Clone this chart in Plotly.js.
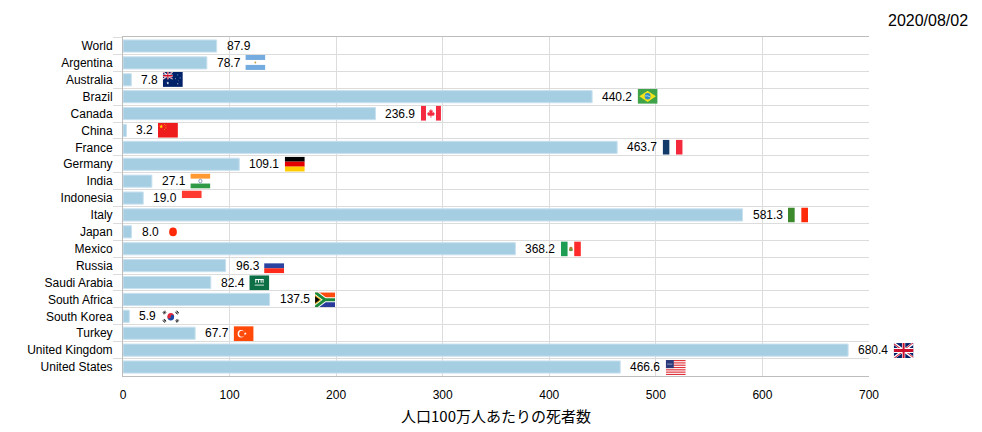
<!DOCTYPE html>
<html>
<head>
<meta charset="utf-8">
<script src="https://cdn.plot.ly/plotly-3.0.1.min.js"></script>
<style>
  body { margin: 0; background: #fff; }
  #chart { width: 982px; height: 432px; }
</style>
</head>
<body>
<div id="chart"></div>
<script>
// data (deaths per million, 2020/08/02)
var countries = ["World", "Argentina", "Australia", "Brazil", "Canada", "China", "France",
    "Germany", "India", "Indonesia", "Italy", "Japan", "Mexico", "Russia", "Saudi Arabia",
    "South Africa", "South Korea", "Turkey", "United Kingdom", "United States"];
var deaths = [87.9, 78.7, 7.8, 440.2, 236.9, 3.2, 463.7, 109.1, 27.1, 19.0, 581.3, 8.0,
    368.2, 96.3, 82.4, 137.5, 5.9, 67.7, 680.4, 466.6];
var flagCodes = ["", "ARG", "AUS", "BRA", "CAN", "CHN", "FRA", "DEU", "IND", "IDN", "ITA",
    "JPN", "MEX", "RUS", "SAU", "ZAF", "KOR", "TUR", "GBR", "USA"];
var dateLabel = "2020/08/02";
var xTitle = "人口100万人あたりの死者数";

// small helper for star polygons in the flags
function star(cx, cy, r, fill) {
    var pts = [];
    for (var i = 0; i < 10; i++) {
        var a = -Math.PI / 2 + i * Math.PI / 5;
        var rr = (i % 2 === 0) ? r : r * 0.4;
        pts.push((cx + rr * Math.cos(a)).toFixed(2) + "," + (cy + rr * Math.sin(a)).toFixed(2));
    }
    return '<polygon points="' + pts.join(" ") + '" fill="' + fill + '"/>';
}

function unionJack(w, h) {
    return '<svg x="0" y="0" width="' + w + '" height="' + h + '" viewBox="0 0 60 30" preserveAspectRatio="none">' +
        '<clipPath id="t"><path d="M30,15 h30 v15 z v15 h-30 z h-30 v-15 z v-15 h30 z"/></clipPath>' +
        '<rect width="60" height="30" fill="#012169"/>' +
        '<path d="M0,0 L60,30 M60,0 L0,30" stroke="#fff" stroke-width="6"/>' +
        '<path d="M0,0 L60,30 M60,0 L0,30" clip-path="url(#t)" stroke="#C8102E" stroke-width="4"/>' +
        '<path d="M30,0 v30 M0,15 h60" stroke="#fff" stroke-width="10"/>' +
        '<path d="M30,0 v30 M0,15 h60" stroke="#C8102E" stroke-width="6"/></svg>';
}

// every flag drawn on a 30x20 box, stretched to the image size
var flagBodies = {
    ARG: '<rect width="30" height="6.7" fill="#74acdf"/><rect y="13.3" width="30" height="6.7" fill="#74acdf"/><circle cx="15" cy="10" r="1.4" fill="#c8a040"/>',
    AUS: '<rect width="30" height="20" fill="#012169"/>' + unionJack(15, 10) +
        star(7.5, 15, 2.2, "#fff") + star(22.5, 4, 1, "#fff") + star(19, 9, 1, "#fff") +
        star(26, 8, 1, "#fff") + star(22.5, 16, 1.1, "#fff") + star(24, 12, 0.6, "#fff"),
    BRA: '<rect width="30" height="20" fill="#3fa34a"/><polygon points="15,2.5 27.5,10 15,17.5 2.5,10" fill="#f2e21a"/><circle cx="15" cy="10" r="4.3" fill="#2f8fc4"/><path d="M11,9.5 Q15,8.5 19,10.8" stroke="#fff" stroke-width="0.8" fill="none"/>',
    CAN: '<rect width="7.5" height="20" fill="#f42a41"/><rect x="22.5" width="7.5" height="20" fill="#f42a41"/><path d="M15,4 L16.2,6.5 L17.8,5.8 L17.2,9.5 L19.5,8.3 L19.8,10 L21,10.2 L19.6,12.3 L20.3,13 L15.6,13.4 L15.6,16 L14.4,16 L14.4,13.4 L9.7,13 L10.4,12.3 L9,10.2 L10.2,10 L10.5,8.3 L12.8,9.5 L12.2,5.8 L13.8,6.5 Z" fill="#f42a41"/>',
    CHN: '<rect width="30" height="20" fill="#ee1c1c"/>' + star(5, 5, 3, "#ffde00") +
        star(10, 2, 1, "#ffde00") + star(12, 4, 1, "#ffde00") + star(12, 7, 1, "#ffde00") + star(10, 9, 1, "#ffde00"),
    FRA: '<rect width="10" height="20" fill="#123a6b"/><rect x="20" width="10" height="20" fill="#f42a3c"/>',
    DEU: '<rect width="30" height="6.7" fill="#000"/><rect y="6.7" width="30" height="6.7" fill="#e40000"/><rect y="13.3" width="30" height="6.7" fill="#ffcc00"/>',
    IND: '<rect width="30" height="6.7" fill="#ff9a33"/><rect y="13.3" width="30" height="6.7" fill="#2e9a46"/><circle cx="15" cy="10" r="2.4" fill="none" stroke="#1d3a8a" stroke-width="0.7"/>',
    IDN: '<rect width="30" height="10" fill="#ff3a30"/>',
    ITA: '<rect width="10" height="20" fill="#3c8a2c"/><rect x="20" width="10" height="20" fill="#ff2a0a"/>',
    JPN: '<circle cx="15" cy="10" r="5.8" fill="#ff2a0a"/>',
    MEX: '<rect width="10" height="20" fill="#1e9e55"/><rect x="20" width="10" height="20" fill="#ff2a2a"/><ellipse cx="15" cy="10" rx="2.6" ry="3" fill="#b07a30"/><ellipse cx="15" cy="11.5" rx="3" ry="1.2" fill="#6a9a40"/>',
    RUS: '<rect y="6.7" width="30" height="6.7" fill="#2a42a0"/><rect y="13.3" width="30" height="6.7" fill="#ff2a1a"/>',
    SAU: '<rect width="30" height="20" fill="#0c6f46"/><rect x="9" y="5" width="12" height="1.4" fill="#fff"/><rect x="9" y="5" width="1.4" height="5" fill="#fff"/><rect x="13" y="5" width="1.4" height="5" fill="#fff"/><rect x="17" y="5" width="1.4" height="5" fill="#fff"/><rect x="20" y="5" width="1.4" height="5" fill="#fff"/><rect x="8" y="12.5" width="14" height="1.1" fill="#fff"/>',
    ZAF: '<svg width="30" height="20" viewBox="0 0 9 6" preserveAspectRatio="none">' +
        '<rect width="9" height="3" fill="#ff4a10"/><rect y="3" width="9" height="3" fill="#2a3a9a"/>' +
        '<path d="M0,0 L4.5,3 L0,6 M4.5,3 H9" stroke="#fff" stroke-width="2" fill="none"/>' +
        '<path d="M0,0 L4.5,3 L0,6 M4.5,3 H9" stroke="#1a8a3a" stroke-width="1.2" fill="none"/>' +
        '<polygon points="0,1.1 2.9,3 0,4.9" fill="#f0b818"/><polygon points="0,1.6 2.2,3 0,4.4" fill="#000"/></svg>',
    KOR: '<path d="M10,10 A5,5 0 0 1 20,10 Z" fill="#e0283a"/><path d="M10,10 A5,5 0 0 0 20,10 Z" fill="#1a4aa8"/><circle cx="12.5" cy="10" r="2.5" fill="#e0283a"/><circle cx="17.5" cy="10" r="2.5" fill="#1a4aa8"/>' +
        '<g stroke="#000" stroke-width="1.2"><path d="M3,5 L6,2 M4,6 L7,3 M5,7 L8,4"/><path d="M24,2 L27,5 M23,3 L26,6 M22,4 L25,7"/><path d="M3,15 L6,18 M4,14 L7,17 M5,13 L8,16"/><path d="M24,18 L27,15 M23,17 L26,14 M22,16 L25,13"/></g>',
    TUR: '<rect width="30" height="20" fill="#ff4a0a"/><circle cx="11" cy="10" r="5" fill="#fff"/><circle cx="12.3" cy="10" r="4" fill="#ff4a0a"/>' + star(17.5, 10, 2.2, "#fff"),
    GBR: unionJack(30, 20),
    USA: (function () {
        var s = '<rect width="30" height="20" fill="#fff"/>';
        for (var i = 0; i < 13; i += 2) s += '<rect y="' + (i * 20 / 13).toFixed(2) + '" width="30" height="' + (20 / 13).toFixed(2) + '" fill="#e0303a"/>';
        s += '<rect width="12" height="10.8" fill="#2a3a7a"/>';
        s += '<rect x="2" y="5" width="8" height="0.8" fill="#cfd4ea"/>';
        return s;
    })()
};

function flagUri(code) {
    var svg = '<svg xmlns="http://www.w3.org/2000/svg" width="30" height="20" viewBox="0 0 30 20" preserveAspectRatio="none">' +
        flagBodies[code] + '</svg>';
    return "data:image/svg+xml;charset=utf-8," + encodeURIComponent(svg);
}

// plot area geometry (for turning pixel gaps into data/paper units)
var plotLeft = 123, plotRight = 869, plotTop = 37, plotBottom = 376, xMax = 700;
var plotW = plotRight - plotLeft, plotH = plotBottom - plotTop;
var unitsPerPx = xMax / plotW;

var trace = {
    type: "bar",
    orientation: "h",
    x: deaths,
    y: countries,
    marker: { color: "#a6cee3", line: { color: "#c9e1ef", width: 1 } },
    hoverinfo: "x+y"
};

var annotations = countries.map(function (c, i) {
    return {
        x: deaths[i], y: c, xref: "x", yref: "y",
        text: deaths[i].toFixed(1), showarrow: false,
        xanchor: "left", yanchor: "middle", xshift: 8,
        font: { size: 12, color: "#000" }
    };
});
annotations.push({
    x: (970 - plotLeft) / plotW, y: 1 + (plotTop - 20) / plotH,
    xref: "paper", yref: "paper", text: dateLabel,
    showarrow: false, xanchor: "right", yanchor: "middle",
    font: { size: 16, color: "#000" }
});

// flags sit after the value label; paper refs so the one past 700 is not clipped
var images = [];
countries.forEach(function (c, i) {
    if (!flagCodes[i]) return;
    var label = deaths[i].toFixed(1);
    var gapPx = 10.5 + 7 * label.length;
    images.push({
        source: flagUri(flagCodes[i]),
        xref: "paper", yref: "paper",
        x: (deaths[i] / unitsPerPx + gapPx) / plotW,
        y: 1 - (i + 0.5) / countries.length,
        sizex: 20 / plotW, sizey: 15 / plotH,
        xanchor: "left", yanchor: "middle",
        sizing: "stretch", layer: "above"
    });
});

var layout = {
    width: 982, height: 432,
    margin: { l: plotLeft, r: 982 - plotRight, t: plotTop, b: 432 - plotBottom },
    paper_bgcolor: "#fff", plot_bgcolor: "#fff",
    font: { family: "Liberation Sans, Arial, Noto Sans CJK JP, sans-serif", size: 12, color: "#000" },
    showlegend: false,
    bargap: 0.28,
    xaxis: {
        range: [0, xMax], dtick: 100, tick0: 0,
        showgrid: true, gridcolor: "#dcdcdc", zeroline: false,
        showline: true, linecolor: "#bdbdbd", mirror: true,
        ticks: "", ticklabelstandoff: 8, tickfont: { size: 12 },
        title: { text: xTitle, font: { size: 15, family: "Noto Sans CJK JP, sans-serif" }, standoff: 10 }
    },
    yaxis: {
        type: "category", autorange: "reversed",
        tickson: "boundaries", ticks: "outside", ticklen: 9, tickcolor: "#dcdcdc",
        ticklabelstandoff: 7,
        showgrid: true, gridcolor: "#dcdcdc",
        showline: true, linecolor: "#bdbdbd",
        tickfont: { size: 12 }
    },
    annotations: annotations,
    images: images
};

Plotly.newPlot("chart", [trace], layout, { displayModeBar: false, staticPlot: true });
</script>
</body>
</html>
